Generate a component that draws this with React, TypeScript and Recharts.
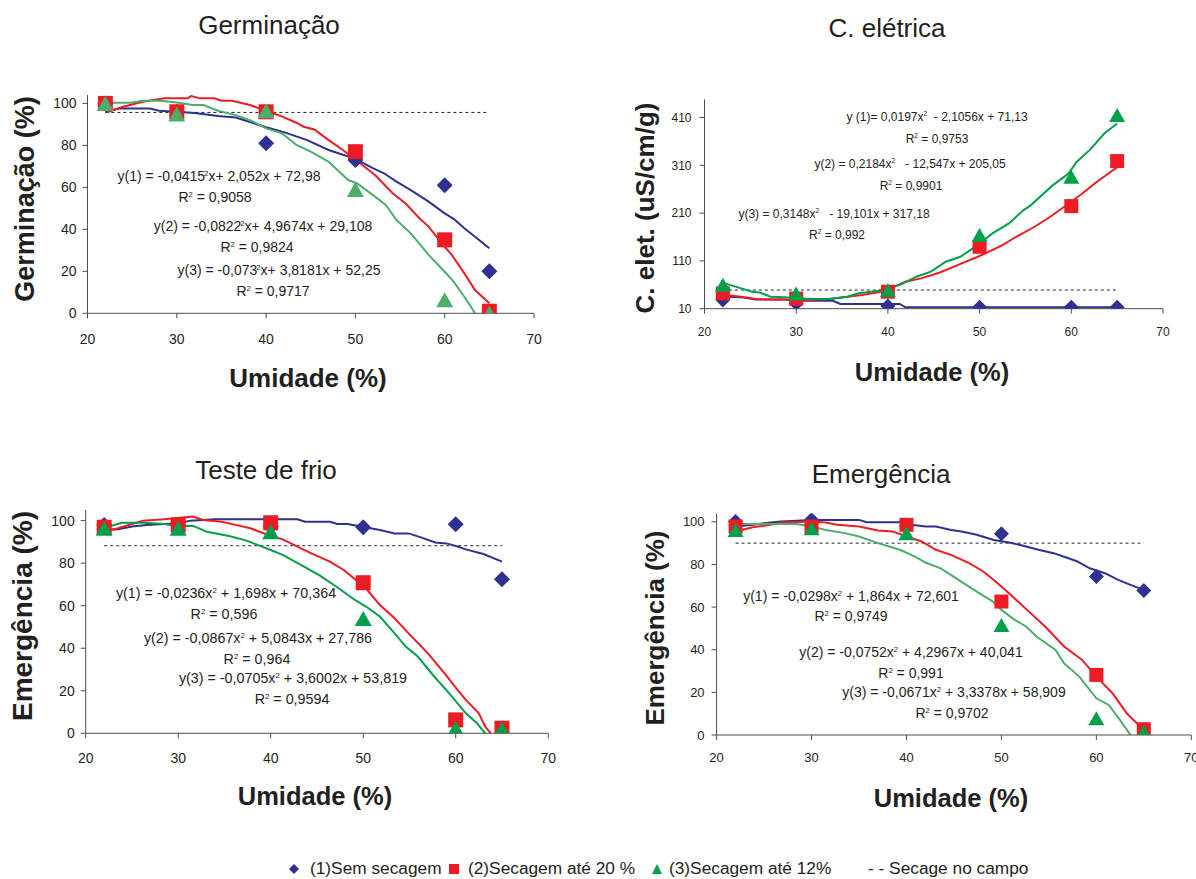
import React from 'react';
import { ComposedChart, Line, Scatter, XAxis, YAxis } from 'recharts';

const FONT = "'Liberation Sans', Arial, Helvetica, sans-serif";
const BLUE = '#2e3192';
const RED = '#ed1c24';
const GREEN_LIGHT = '#4dad6a';
const GREEN_DARK = '#00a04b';
const TEXT = '#231f20';

// shared
const moisture = [22, 30, 40, 50, 60, 65];
const xTicks = [20, 30, 40, 50, 60, 70];
const dashRange = [22, 65];

// ---- Panel 1: Germinação ----
const germTicks = [0, 20, 40, 60, 80, 100];
const germSem = [100, 96, 81, 73, 61, 20];
const germSec20 = [100, 96, 96, 77, 35, 1];
const germSec12 = [100, 95, 96.5, 59, 6.5, 0];
const germDash = 95.7;
const germCurveSem = [[22, 96], [23.5, 97.6], [27, 97.6], [28, 96.5], [30, 96], [32, 95.4], [34.6, 94], [36.6, 93.3], [40, 88.6], [42, 86.3], [44.6, 82.5], [47, 77.8], [50, 73.6], [52, 69], [53.2, 66.7], [54.6, 62.7], [56.2, 58.7], [58.2, 53.2], [60, 47.6], [61, 45], [62.2, 40.5], [63.4, 36.5], [65, 31]];
const germCurveSec20 = [[22.2, 95.7], [24, 98.4], [26.2, 100.8], [28.6, 102.4], [31.2, 102.4], [31.6, 103.5], [32.6, 102.4], [34.2, 102.4], [35, 101.3], [36.2, 101.3], [38.2, 99.2], [40, 96.5], [41.8, 93.7], [43.4, 90.8], [44.2, 88.9], [45.4, 87.6], [47, 82.5], [48.6, 77.8], [50.3, 72.2], [52.2, 65.9], [54.2, 57.1], [55.6, 52.4], [57.2, 45.2], [58.2, 41.3], [60, 31.7], [60.8, 27.8], [62.2, 19], [63.4, 11.1], [65, 4.8]];
const germCurveSec12 = [[22.2, 100.3], [24.8, 100.3], [26.2, 101.3], [28.2, 101.3], [30.2, 100.3], [31.8, 99.2], [33, 99.2], [34.6, 96.5], [36.6, 94.4], [38.2, 92], [40, 88.1], [41.8, 85.7], [43.4, 80.2], [45, 77], [47, 72.2], [49.2, 63.5], [50.2, 61.9], [52.2, 55.6], [53.4, 51.6], [54.6, 44.4], [56.2, 38.1], [58.2, 27.8], [60, 19.8], [61, 15.1], [62.2, 7.9], [63.4, 0]];

// ---- Panel 2: C. elétrica ----
const ceTicks = [10, 110, 210, 310, 410];
const ceSem = [28, 21, 15.6, 12.8, 12.8, 12.8];
const ceSec20 = [42, 31, 45.5, 139.6, 224.6, 318.7];
const ceSec12 = [60, 42, 49, 164, 286, 415];
const ceDash = 49;
const ceCurveSem = [[22.2, 35.1], [24, 33.7], [24.8, 31.6], [25.6, 29.5], [28.4, 29.5], [30, 26.7], [34, 26.7], [34.8, 19.8], [41.3, 19.8], [41.9, 12.8], [65, 12.8]];
const ceCurveSec20 = [[22.2, 38.6], [24, 35.1], [25.6, 30.2], [27.6, 29.5], [30, 29.5], [31.6, 28.1], [33.2, 29.5], [35.6, 35.1], [37.2, 38.6], [38.8, 44.1], [40.1, 50.4], [41.9, 66.4], [43.6, 73.4], [45.6, 85.3], [47.6, 101.3], [49.8, 118.7], [50.8, 127.1], [52.5, 143.1], [54, 160.5], [56, 181.4], [57.7, 202.3], [60, 233.7], [61.2, 251.1], [62.8, 275.5], [65, 306]];
const ceCurveSec12 = [[22.2, 63], [24, 52.5], [25.2, 45.5], [26, 44.1], [27.2, 35.1], [28.8, 33.7], [30, 31.6], [32, 30.2], [33.6, 30.2], [35.6, 35.1], [36.8, 42.1], [38.8, 46.9], [40.1, 52.5], [41.5, 61.6], [43.1, 76.9], [44.7, 87.4], [46.3, 108.3], [47.9, 118.7], [49.8, 143.1], [51.4, 167.5], [53.2, 188.4], [54.8, 216.3], [55.6, 226.7], [58, 268.5], [59.7, 292.9], [60.6, 317.3], [62, 341.7], [63.6, 376.5], [65, 397.5]];

// ---- Panel 3: Teste de frio ----
const frioTicks = [0, 20, 40, 60, 80, 100];
const frioSem = [98, 98, 97.2, 96.9, 98.3, 72.4];
const frioSec20 = [96.9, 98, 99, 70.8, 6.3, 2.4];
const frioSec12 = [96.4, 96.4, 94.8, 54, 2.4, 1.9];
const frioDash = 88.2;
const frioCurveSem = [[21.9, 95.6], [23.5, 95.9], [25, 97.2], [26.6, 98], [28.5, 98.4], [30, 98.7], [31.3, 100], [34, 100.6], [42.9, 100.6], [43.7, 99.5], [46.4, 99.5], [47.2, 98.4], [48.3, 98.4], [49.5, 97.5], [51.8, 95.6], [53.4, 94], [54.9, 94], [56, 92.5], [57.8, 89.7], [59, 89.3], [60.2, 87.8], [61.1, 86.5], [63, 84.3], [65, 80.7]];
const frioCurveSec20 = [[21.9, 94.8], [23.5, 96.4], [26.2, 100], [28.5, 100.6], [31.6, 101.9], [32.7, 100.3], [34.7, 99.5], [36.2, 98], [37.8, 96.4], [40, 92.8], [41.3, 91.2], [42.9, 87.8], [44.4, 84.6], [46.4, 80.7], [47.9, 76.8], [50.3, 68.2], [51.8, 60.3], [53.4, 54.1], [54.9, 47], [57, 37.6], [58.8, 28.2], [60.2, 20.4], [61.1, 15.7], [62.5, 9.4], [63.2, 3.1], [63.8, 0]];
const frioCurveSec12 = [[21.9, 96.4], [23.9, 99], [26.2, 99], [28.5, 98.4], [30, 97.5], [31.6, 97.5], [33.1, 94.8], [35.5, 92.8], [37.4, 90.6], [40, 86.2], [41.3, 83.9], [43.6, 78.4], [45.2, 74.5], [47.2, 68.7], [49.1, 62.7], [50.3, 59.6], [51.8, 54.9], [53.4, 47], [54.6, 40.8], [55.9, 36.1], [57.7, 26.6], [59.3, 18.8], [60.2, 14.1], [61.1, 9.4], [62.3, 4.7], [63.2, 0]];

// ---- Panel 4: Emergência ----
const emTicks = [0, 20, 40, 60, 80, 100];
const emSem = [100.2, 101, 98, 94.4, 74.3, 67.8];
const emSec20 = [97.8, 97.8, 98.6, 62.6, 28.2, 2.7];
const emSec12 = [96.2, 97, 94.7, 51.6, 7.8, 1.5];
const emDash = 90;
const emCurveSem = [[22, 97.8], [23.8, 98.6], [25.7, 99.7], [26.8, 100.2], [30, 100.9], [35, 100.9], [35.8, 99.8], [39.3, 99.8], [40.5, 98.6], [42, 97.8], [43.1, 97.8], [44.7, 96.2], [45.8, 95.5], [47.4, 93.9], [49.2, 91.5], [50.8, 90.3], [52.4, 88.7], [53.9, 86.9], [55.5, 85.3], [57, 83], [58, 81.4], [59.3, 78.2], [60.9, 75.9], [62.3, 72.8], [63.6, 70.4], [65, 68.1]];
const emCurveSec20 = [[22, 95.5], [23.8, 97.5], [25.7, 98.6], [26.8, 99.7], [30, 100.2], [31.5, 99.7], [32.7, 98.6], [35, 97.8], [37, 95.9], [38.5, 95.5], [40, 93.1], [41.6, 90.8], [43.1, 86.9], [44.7, 84.5], [46.6, 80.6], [48.1, 76.7], [49.6, 71.2], [50.8, 66.5], [52.7, 58.7], [54.6, 50.9], [56.6, 41.5], [58.5, 35.2], [60, 27.4], [61.7, 19.6], [63.2, 10.2], [65, 2.3]];
const emCurveSec12 = [[22, 99], [25.3, 99], [28.4, 99], [30, 97.8], [31.5, 96.2], [33.5, 94.7], [35, 93.1], [37, 90], [39.3, 86.9], [40.9, 83.7], [42, 80.9], [43.6, 78.2], [45.2, 73.6], [47.1, 68.1], [49.1, 62.6], [50, 58.7], [51.4, 54], [52.6, 50.9], [53.7, 46.2], [55.7, 39.9], [56.6, 33.6], [58.2, 27.4], [60, 17.2], [61.3, 14.1], [62.5, 7], [63.6, 0]];

const legendLabels = ['(1)Sem secagem', '(2)Secagem até 20 %', '(3)Secagem até 12%', '- - Secage no campo'];

type Pt = { x: number; y: number };
const toPts = (arr: number[][]): Pt[] => arr.map(([x, y]) => ({ x, y }));
const markerPts = (vals: number[]): Pt[] => vals.map((y, i) => ({ x: moisture[i], y }));
const dashPts = (y: number): Pt[] => dashRange.map((x) => ({ x, y }));

const diamondShape = (color: string, r: number) => (props: any) => {
  const { cx, cy } = props;
  if (cx == null || cy == null) return <g />;
  return <path d={`M${cx},${cy - r}L${cx + r},${cy}L${cx},${cy + r}L${cx - r},${cy}Z`} fill={color} />;
};
const squareShape = (color: string, s: number) => (props: any) => {
  const { cx, cy } = props;
  if (cx == null || cy == null) return <g />;
  return <rect x={cx - s / 2} y={cy - s / 2} width={s} height={s} fill={color} />;
};
const triangleShape = (color: string, w: number, h: number) => (props: any) => {
  const { cx, cy } = props;
  if (cx == null || cy == null) return <g />;
  return <path d={`M${cx},${cy - h / 2}L${cx + w / 2},${cy + h / 2}L${cx - w / 2},${cy + h / 2}Z`} fill={color} />;
};

type PanelProps = {
  left: number; top: number; width: number; height: number;
  x0: number; x1: number; yTop: number; yBot: number;
  yDomain: [number, number]; yTicks: number[];
  tickFont: number; xTickMargin: number; yTickMargin: number;
  sem: number[]; sec20: number[]; sec12: number[];
  cSem: number[][]; c20: number[][]; c12: number[][];
  dash: number; greenLine: string; greenMarker: string;
  msz: number;
};

function Panel(p: PanelProps) {
  const yAxisW = 50;
  const xAxisH = 40;
  const margin = {
    left: p.x0 - p.left - yAxisW,
    right: p.left + p.width - p.x1,
    top: p.yTop - p.top,
    bottom: p.top + p.height - p.yBot - xAxisH,
  };
  const tick = { fill: TEXT, fontSize: p.tickFont, fontFamily: FONT };
  return (
    <div style={{ position: 'absolute', left: p.left, top: p.top }}>
      <ComposedChart width={p.width} height={p.height} margin={margin}>
        <XAxis type="number" dataKey="x" domain={[20, 70]} ticks={xTicks} interval={0} tickSize={5}
          tickMargin={p.xTickMargin} height={xAxisH} stroke="#4d4d4d" tick={tick} allowDataOverflow />
        <YAxis type="number" dataKey="y" domain={p.yDomain} ticks={p.yTicks} interval={0} width={yAxisW}
          tickSize={5} tickMargin={p.yTickMargin} stroke="#4d4d4d" tick={tick} allowDataOverflow />
        <Line data={dashPts(p.dash)} dataKey="y" stroke="#222" strokeDasharray="3 3" strokeWidth={1}
          dot={false} activeDot={false} isAnimationActive={false} />
        <Line data={toPts(p.cSem)} dataKey="y" stroke={BLUE} strokeWidth={2} dot={false} activeDot={false}
          type="linear" isAnimationActive={false} />
        <Line data={toPts(p.c20)} dataKey="y" stroke={RED} strokeWidth={2} dot={false} activeDot={false}
          type="linear" isAnimationActive={false} />
        <Line data={toPts(p.c12)} dataKey="y" stroke={p.greenLine} strokeWidth={2} dot={false} activeDot={false}
          type="linear" isAnimationActive={false} />
        <Scatter data={markerPts(p.sem)} dataKey="y" shape={diamondShape(BLUE, p.msz / 2 + 0.5)} isAnimationActive={false} />
        <Scatter data={markerPts(p.sec20)} dataKey="y" shape={squareShape(RED, p.msz)} isAnimationActive={false} />
        <Scatter data={markerPts(p.sec12)} dataKey="y" shape={triangleShape(p.greenMarker, p.msz + 2, p.msz)} isAnimationActive={false} />
      </ComposedChart>
    </div>
  );
}

const Txt = (props: { x: number; y: number; size: number; bold?: boolean; rotate?: boolean; children: React.ReactNode }) => (
  <div
    style={{
      position: 'absolute', left: props.x, top: props.y,
      transform: `translate(-50%, -50%)${props.rotate ? ' rotate(-90deg)' : ''}`,
      fontSize: props.size, fontWeight: props.bold ? 700 : 400, whiteSpace: 'pre', lineHeight: 1,
      fontFamily: FONT, color: TEXT,
    }}
  >
    {props.children}
  </div>
);

const Sup = ({ children, ml }: { children: React.ReactNode; ml?: number }) => (
  <span style={{ fontSize: '0.55em', position: 'relative', top: '-0.7em', marginLeft: ml ?? 0 }}>{children}</span>
);

const legendText = { position: 'absolute' as const, top: 869, transform: 'translateY(-50%)', fontSize: 17.3, lineHeight: 1, whiteSpace: 'pre' as const, color: TEXT };

export default function App() {
  return (
    <div style={{ position: 'absolute', left: 0, top: 0, width: 1196, height: 879, background: '#fff', overflow: 'hidden', fontFamily: FONT }}>
      <Panel left={0} top={0} width={600} height={360} x0={87.5} x1={534} yTop={95} yBot={313.3}
        yDomain={[0, 104]} yTicks={germTicks} tickFont={14} xTickMargin={16} yTickMargin={6}
        sem={germSem} sec20={germSec20} sec12={germSec12}
        cSem={germCurveSem} c20={germCurveSec20} c12={germCurveSec12}
        dash={germDash} greenLine={GREEN_LIGHT} greenMarker={GREEN_LIGHT} msz={15} />
      <Panel left={600} top={0} width={596} height={360} x0={704.5} x1={1163} yTop={99.3} yBot={308.7}
        yDomain={[10, 448]} yTicks={ceTicks} tickFont={12} xTickMargin={14} yTickMargin={8}
        sem={ceSem} sec20={ceSec20} sec12={ceSec12}
        cSem={ceCurveSem} c20={ceCurveSec20} c12={ceCurveSec12}
        dash={ceDash} greenLine={GREEN_DARK} greenMarker={GREEN_DARK} msz={14} />
      <Panel left={0} top={440} width={600} height={360} x0={85.7} x1={548.2} yTop={510} yBot={733.3}
        yDomain={[0, 105]} yTicks={frioTicks} tickFont={14} xTickMargin={15} yTickMargin={6}
        sem={frioSem} sec20={frioSec20} sec12={frioSec12}
        cSem={frioCurveSem} c20={frioCurveSec20} c12={frioCurveSec12}
        dash={frioDash} greenLine={GREEN_DARK} greenMarker={GREEN_DARK} msz={15} />
      <Panel left={600} top={440} width={596} height={360} x0={716.6} x1={1191.3} yTop={513.3} yBot={735}
        yDomain={[0, 104]} yTicks={emTicks} tickFont={13} xTickMargin={13} yTickMargin={7}
        sem={emSem} sec20={emSec20} sec12={emSec12}
        cSem={emCurveSem} c20={emCurveSec20} c12={emCurveSec12}
        dash={emDash} greenLine={GREEN_LIGHT} greenMarker={GREEN_DARK} msz={14} />

      {/* titles */}
      <Txt x={269} y={25} size={26}>Germinação</Txt>
      <Txt x={887} y={28} size={26}>C. elétrica</Txt>
      <Txt x={266} y={470} size={26}>Teste de frio</Txt>
      <Txt x={881} y={474} size={26}>Emergência</Txt>

      {/* axis labels */}
      <Txt x={25} y={199} size={27} bold rotate>Germinação (%)</Txt>
      <Txt x={645} y={208} size={26} bold rotate>C. elet. (uS/cm/g)</Txt>
      <Txt x={23} y={616} size={28} bold rotate>Emergência (%)</Txt>
      <Txt x={655} y={628} size={26} bold rotate>Emergência (%)</Txt>
      <Txt x={308} y={378} size={26} bold>Umidade (%)</Txt>
      <Txt x={932} y={373} size={25.5} bold>Umidade (%)</Txt>
      <Txt x={315} y={797} size={25.5} bold>Umidade (%)</Txt>
      <Txt x={951} y={799} size={25.5} bold>Umidade (%)</Txt>

      {/* panel 1 equations */}
      <Txt x={219} y={176} size={14}>y(1) = -0,0415<Sup ml={-1}>2</Sup>x+ 2,052x + 72,98</Txt>
      <Txt x={215} y={197} size={14}>R<Sup>2</Sup> = 0,9058</Txt>
      <Txt x={263} y={226} size={14}>y(2) = -0,0822<Sup ml={-1}>2</Sup>x+ 4,9674x + 29,108</Txt>
      <Txt x={257} y={247} size={14}>R<Sup>2</Sup> = 0,9824</Txt>
      <Txt x={279} y={270} size={14}>y(3) = -0,073<Sup ml={-1}>2</Sup>x+ 3,8181x + 52,25</Txt>
      <Txt x={273} y={291} size={14}>R<Sup>2</Sup> = 0,9717</Txt>

      {/* panel 2 equations */}
      <Txt x={937} y={117} size={12}>y (1)= 0,0197x<Sup>2</Sup>{'  - 2,1056x + 71,13'}</Txt>
      <Txt x={937} y={139} size={12}>R<Sup>2</Sup> = 0,9753</Txt>
      <Txt x={910} y={164} size={12}>y(2) = 0,2184x<Sup>2</Sup>{'   - 12,547x + 205,05'}</Txt>
      <Txt x={911} y={186} size={12}>R<Sup>2</Sup> = 0,9901</Txt>
      <Txt x={834} y={214} size={12}>y(3) = 0,3148x<Sup>2</Sup>{'   - 19,101x + 317,18'}</Txt>
      <Txt x={837} y={235} size={12}>R<Sup>2</Sup> = 0,992</Txt>

      {/* panel 3 equations */}
      <Txt x={226} y={593} size={14.3}>y(1) = -0,0236x<Sup>2</Sup> + 1,698x + 70,364</Txt>
      <Txt x={224} y={614} size={14.3}>R<Sup>2</Sup> = 0,596</Txt>
      <Txt x={258} y={638} size={14.3}>y(2) = -0,0867x<Sup>2</Sup> + 5,0843x + 27,786</Txt>
      <Txt x={257} y={659} size={14.3}>R<Sup>2</Sup> = 0,964</Txt>
      <Txt x={293} y={678} size={14.3}>y(3) = -0,0705x<Sup>2</Sup> + 3,6002x + 53,819</Txt>
      <Txt x={292} y={699} size={14.3}>R<Sup>2</Sup> = 0,9594</Txt>

      {/* panel 4 equations */}
      <Txt x={851} y={596} size={14}>y(1) = -0,0298x<Sup>2</Sup> + 1,864x + 72,601</Txt>
      <Txt x={851} y={616} size={14}>R<Sup>2</Sup> = 0,9749</Txt>
      <Txt x={911} y={652} size={14}>y(2) = -0,0752x<Sup>2</Sup> + 4,2967x + 40,041</Txt>
      <Txt x={911} y={673} size={14}>R<Sup>2</Sup> = 0,991</Txt>
      <Txt x={954} y={692} size={14}>y(3) = -0,0671x<Sup>2</Sup> + 3,3378x + 58,909</Txt>
      <Txt x={952} y={713} size={14}>R<Sup>2</Sup> = 0,9702</Txt>

      {/* legend */}
      <svg style={{ position: 'absolute', left: 0, top: 860 }} width={1196} height={20}>
        <path d="M294,4L299,9L294,14L289,9Z" fill={BLUE} />
        <rect x={449} y={4} width={10} height={10} fill={RED} />
        <path d="M657,4L662,14L652,14Z" fill={GREEN_DARK} />
      </svg>
      <div style={{ ...legendText, left: 310 }}>{legendLabels[0]}</div>
      <div style={{ ...legendText, left: 468 }}>{legendLabels[1]}</div>
      <div style={{ ...legendText, left: 669 }}>{legendLabels[2]}</div>
      <div style={{ ...legendText, left: 868 }}>{legendLabels[3]}</div>
    </div>
  );
}
